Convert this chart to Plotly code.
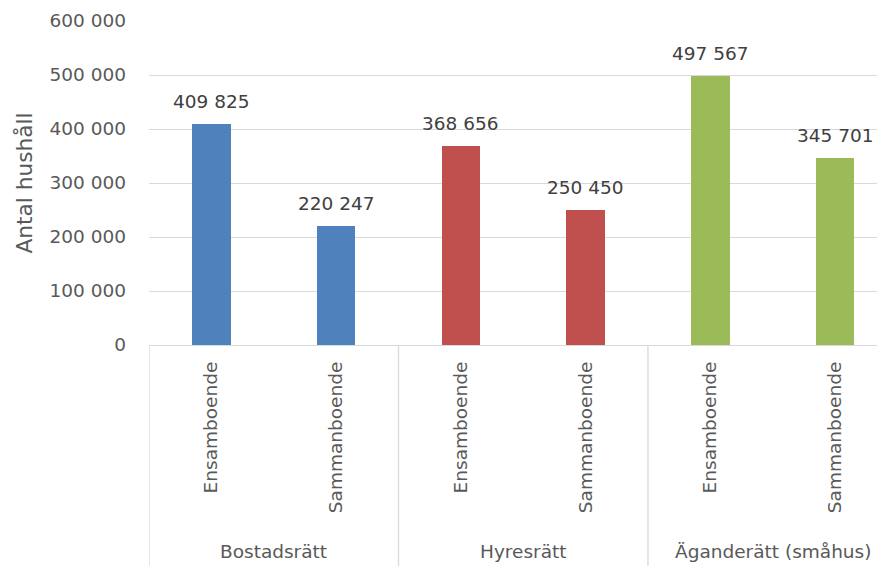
import plotly.graph_objects as go

groups = ["Bostadsrätt", "Hyresrätt", "Äganderätt (småhus)"]
subcats = ["Ensamboende", "Sammanboende"]
values = [409825, 220247, 368656, 250450, 497567, 345701]
colors = ["#4F81BD", "#4F81BD", "#C0504D", "#C0504D", "#9BBB59", "#9BBB59"]
y_ticks = [0, 100000, 200000, 300000, 400000, 500000, 600000]
y_title = "Antal hushåll"

FONT = "DejaVu Sans"
FS = 18.5

# page body has an 8px margin; figure sized to fill the window exactly
W, H = 877, 558
OFF = 8
PLOT_TOP = 20.5 - OFF
PLOT_BOT = 345.5 - OFF
PLOT_LEFT = 149 - OFF
H_PLOT = PLOT_BOT - PLOT_TOP

xpos = list(range(len(values)))
ticktext = [s for g in groups for s in subcats]

fig = go.Figure()
fig.add_trace(go.Bar(
    x=xpos, y=values, marker=dict(color=colors, line=dict(width=0)),
    width=0.31, hoverinfo="skip",
))

for x, v in zip(xpos, values):
    fig.add_annotation(
        x=x, y=v, xref="x", yref="y", text=f"{v:,}".replace(",", " "),
        showarrow=False, yanchor="bottom", yshift=10,
        font=dict(family=FONT, size=FS, color="#404040"),
    )

ybot = -(H - PLOT_BOT + 5) / H_PLOT
for i in range(len(groups)):
    fig.add_shape(type="line", xref="x", yref="paper",
                  x0=i * 2 - 0.5, x1=i * 2 - 0.5, y0=0, y1=ybot,
                  line=dict(color="#D9D9D9", width=1.3))
    fig.add_annotation(
        x=i * 2 + 0.5, y=(PLOT_BOT - (553 - OFF)) / H_PLOT, xref="x", yref="paper",
        text=groups[i], showarrow=False, yanchor="middle",
        font=dict(family=FONT, size=FS, color="#595959"),
    )

fig.update_layout(
    width=W, height=H,
    margin=dict(l=PLOT_LEFT, r=0, t=PLOT_TOP, b=H - PLOT_BOT, autoexpand=False),
    plot_bgcolor="white", paper_bgcolor="white",
    separators=", ",
    showlegend=False,
    font=dict(family=FONT, size=FS, color="#595959"),
    bargap=0,
)
fig.update_xaxes(
    range=[-0.5, 5.4], tickmode="array", tickvals=xpos, ticktext=ticktext,
    tickangle=-90, ticks="", ticklabelstandoff=12, showgrid=False,
    showline=False, zeroline=False,
    tickfont=dict(family=FONT, size=FS, color="#595959"),
    automargin=False,
)
fig.update_yaxes(
    range=[0, 600000], tickmode="array", tickvals=y_ticks, tickformat=",d",
    showgrid=True, gridcolor="#D9D9D9", gridwidth=1.3,
    zeroline=True, zerolinecolor="#D9D9D9", zerolinewidth=1.3,
    showline=False, ticks="", ticklabelstandoff=22,
    tickfont=dict(family=FONT, size=FS, color="#595959"),
    title=dict(text=y_title, standoff=10,
               font=dict(family=FONT, size=21.7, color="#595959")),
    automargin=False,
)

fig.write_html("out.html")
